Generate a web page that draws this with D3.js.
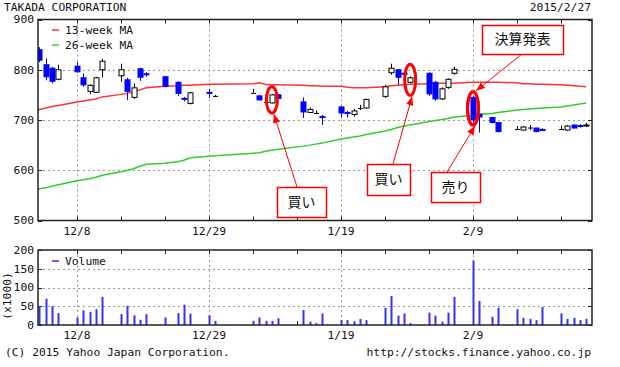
<!DOCTYPE html>
<html>
<head>
<meta charset="utf-8">
<script src="https://cdn.jsdelivr.net/npm/d3@7"></script>
<style>
body { margin: 0; background: #fff; }
text { font-family: "DejaVu Sans Mono", "Liberation Mono", monospace; font-size: 11.3px; fill: #111; }
.jp { font-family: "Noto Sans CJK JP", sans-serif; font-size: 14px; }
</style>
</head>
<body>
<svg id="chart" width="620" height="367"></svg>
<script>
// trading days, OHLC and volume (x1000)
var dates = [
    "2014-12-02", "2014-12-03", "2014-12-04", "2014-12-05",
    "2014-12-08", "2014-12-09", "2014-12-10", "2014-12-11", "2014-12-12",
    "2014-12-15", "2014-12-16", "2014-12-17", "2014-12-18", "2014-12-19",
    "2014-12-22", "2014-12-24", "2014-12-25", "2014-12-26",
    "2014-12-29", "2014-12-30",
    "2015-01-05", "2015-01-06", "2015-01-07", "2015-01-08", "2015-01-09",
    "2015-01-13", "2015-01-14", "2015-01-15", "2015-01-16",
    "2015-01-19", "2015-01-20", "2015-01-21", "2015-01-22", "2015-01-23",
    "2015-01-26", "2015-01-27", "2015-01-28", "2015-01-29", "2015-01-30",
    "2015-02-02", "2015-02-03", "2015-02-04", "2015-02-05", "2015-02-06",
    "2015-02-09", "2015-02-10", "2015-02-12", "2015-02-13",
    "2015-02-16", "2015-02-17", "2015-02-18", "2015-02-19", "2015-02-20",
    "2015-02-23", "2015-02-24", "2015-02-25", "2015-02-26", "2015-02-27"
]
var open = [840, 810, 803, 781, 807, 784, 757, 755, 800, 788, 780, 745, 802, 792, 786, 775, 743, 733, 755, 748,
    754, 748, 736, 734, 750, 736, 715, 714, 707, 726, 715, 711, 724, 724, 747, 794, 800, 793, 775,
    793, 775, 742, 765, 793, 745, 712, 705, 695, 682, 680, 685, 684, 681, 682, 680, 690, 689, 689]
var high = [845, 822, 806, 810, 815, 793, 771, 786, 822, 812, 784, 773, 804, 795, 788, 777, 746, 756, 762, 750,
    762, 749, 738, 752, 752, 745, 725, 719, 710, 728, 718, 722, 730, 742, 770, 812, 801, 794, 787,
    795, 778, 765, 783, 806, 748, 713, 706, 696, 688, 688, 690, 685, 684, 689, 690, 691, 692, 694]
var low = [815, 779, 773, 779, 794, 766, 752, 754, 785, 776, 740, 742, 778, 786, 765, 748, 737, 731, 744, 746,
    754, 739, 734, 733, 741, 704, 714, 714, 690, 705, 705, 707, 720, 723, 744, 790, 770, 773, 773,
    748, 738, 740, 762, 790, 695, 675, 693, 675, 682, 679, 680, 676, 678, 682, 679, 683, 685, 686]
var close = [819, 786, 777, 800, 796, 770, 769, 784, 817, 800, 757, 764, 785, 790, 767, 753, 741, 754, 753, 748,
    754, 740, 736, 750, 743, 716, 721, 714, 705, 714, 713, 718, 724, 741, 766, 803, 785, 791, 784,
    752, 742, 762, 781, 801, 700, 706, 695, 677, 682, 686, 685, 677, 680, 682, 688, 684, 687, 690]
var volume = [50, 70, 50, 32, 20, 39, 35, 42, 75, 29, 51, 26, 14, 29, 20, 32, 54, 30, 26, 11,
    11, 20, 11, 11, 18, 40, 9, 5, 31, 13, 13, 10, 16, 13, 46, 77, 25, 31, 5,
    33, 25, 9, 33, 75, 172, 64, 22, 46, 42, 19, 16, 13, 48, 31, 16, 19, 13, 16]

// moving averages start one day earlier (12/1) so the lines reach the left edge
var maDates = ["2014-12-01"].concat(dates)
var ma13 = [717, 721, 724, 727, 729, 736, 738, 740, 742, 746, 751, 753, 756, 760, 764, 767, 768, 769, 769, 771, 771,
    772, 774, 771, 770, 770, 769, 768, 768, 767, 767, 765, 764, 764, 764, 766, 768, 769, 770, 771,
    772, 772, 773, 773, 773, 775, 775, 775, 775, 774, 772, 772, 771, 771, 770, 769, 768, 767, 766]
var ma26 = [560, 563, 565, 568, 571, 579, 581, 583, 586, 590, 597, 600, 603, 608, 612, 614, 617, 620, 625, 628, 629,
    634, 635, 638, 640, 642, 648, 650, 652, 654, 662, 664, 666, 668, 671, 678, 681, 685, 688, 690,
    697, 699, 701, 703, 706, 709, 711, 713, 715, 720, 721, 722, 723, 724, 726, 728, 730, 732, 734]

var priceTicks = [500, 600, 700, 800, 900]
var volumeTicks = [0, 50, 100, 150, 200]
var labelDates = ["2014-12-08", "2014-12-29", "2015-01-19", "2015-02-09"]
var labelNames = ["12/8", "12/29", "1/19", "2/9"]

// callouts: date of the circled candle, price range it covers, box text
var notes = [
    {text: "買い", date: "2015-01-08", lo: 714, hi: 766, box: [277, 187, 49, 30], from: [297, 187], to: "bottom"},
    {text: "買い", date: "2015-01-30", lo: 749, hi: 811, box: [367, 164, 43, 31], from: [393, 164], to: "bottom"},
    {text: "売り", date: "2015-02-09", lo: 690, hi: 756, box: [431, 172, 49, 30], from: [447, 172], to: "bottom"},
    {text: "決算発表", date: "2015-02-09", lo: 690, hi: 756, box: [482, 25, 81, 29], from: [522, 54], to: "top"}
]

var blue = "#0000ff"
var parse = d3.timeParse("%Y-%m-%d")
var svg = d3.select("svg#chart")

var left = 38, right = 592
var x = d3.scaleTime()
    .domain([new Date(2014, 11, 1, 19), new Date(2015, 1, 27, 22, 20)])
    .range([left, right])
var y = d3.scaleLinear().domain([500, 900]).range([220.5, 19.5])
var yv = d3.scaleLinear().domain([0, 200]).range([325, 250])

var candles = dates.map(function (d, i) {
    return {date: parse(d), o: open[i], h: high[i], l: low[i], c: close[i], v: volume[i]}
})
var mondays = d3.timeMonday.range(parse("2014-12-02"), parse("2015-02-28"))

var defs = svg.append("defs")
defs.append("clipPath").attr("id", "clip")
    .append("rect").attr("x", left).attr("y", 19.5).attr("width", right - left).attr("height", 201)
defs.append("marker")
    .attr("id", "arrow")
    .attr("viewBox", "0 -5 10 10")
    .attr("refX", 10)
    .attr("refY", 0)
    .attr("orient", "auto")
    .attr("markerUnits", "userSpaceOnUse")
    .attr("markerWidth", 9)
    .attr("markerHeight", 9)
    .append("path").attr("d", "M0,-4L10,0L0,4Z").attr("fill", "red")

function px(v) { return Math.round(v) + 0.5 }

// draws grid, ticks, labels for one panel
function panel(top, bottom, ys, yTicks, gridTicks) {
    var g = svg.append("g")
    g.selectAll(".hgrid").data(gridTicks).enter().append("line")
        .attr("x1", left).attr("x2", right)
        .attr("y1", function (d) { return px(ys(d)) }).attr("y2", function (d) { return px(ys(d)) })
        .attr("stroke", "#999").attr("stroke-dasharray", "2,3")
    g.selectAll(".vgrid").data(labelDates).enter().append("line")
        .attr("x1", function (d) { return px(x(parse(d))) }).attr("x2", function (d) { return px(x(parse(d))) })
        .attr("y1", top).attr("y2", bottom)
        .attr("stroke", "#999").attr("stroke-dasharray", "2,3")
    mondays.forEach(function (m) {
        var xx = px(x(m))
        g.append("line").attr("x1", xx).attr("x2", xx).attr("y1", top).attr("y2", top + 4).attr("stroke", "#222")
        g.append("line").attr("x1", xx).attr("x2", xx).attr("y1", bottom).attr("y2", bottom - 4).attr("stroke", "#222")
    })
    yTicks.forEach(function (t) {
        var yy = px(ys(t))
        g.append("line").attr("x1", left).attr("x2", left + 4).attr("y1", yy).attr("y2", yy).attr("stroke", "#222")
        g.append("line").attr("x1", right).attr("x2", right - 4).attr("y1", yy).attr("y2", yy).attr("stroke", "#222")
        g.append("text").attr("x", 34).attr("y", ys(t)).attr("dy", "0.35em")
            .attr("text-anchor", "end").text(t)
    })
    labelDates.forEach(function (d, i) {
        g.append("text").attr("x", x(parse(d))).attr("y", bottom + 14)
            .attr("text-anchor", "middle").text(labelNames[i])
    })
    return g
}

panel(19.5, 220.5, y, priceTicks, [600, 700, 800])
panel(250, 325, yv, volumeTicks, [50, 100, 150])

// moving averages
var maLine = function (vals) {
    return d3.line()
        .x(function (d) { return x(parse(d)) })
        .y(function (d, i) { return y(vals[i]) })(maDates)
}
var plot = svg.append("g").attr("clip-path", "url(#clip)")
plot.append("path").attr("d", maLine(ma26)).attr("fill", "none").attr("stroke", "#33cc33").attr("stroke-width", 1.5)
plot.append("path").attr("d", maLine(ma13)).attr("fill", "none").attr("stroke", "#ff3333").attr("stroke-width", 1.5)

// candles
var c = plot.selectAll(".candle").data(candles).enter().append("g").attr("class", "candle")
c.append("line")
    .attr("x1", function (d) { return px(x(d.date)) })
    .attr("x2", function (d) { return px(x(d.date)) })
    .attr("y1", function (d) { return y(d.h) })
    .attr("y2", function (d) { return y(d.l) })
    .attr("stroke", function (d) { return d.c < d.o ? blue : "#000" })
c.append("rect")
    .attr("x", function (d) { return Math.round(x(d.date)) - 2 })
    .attr("width", 5)
    .attr("y", function (d) { return y(Math.max(d.o, d.c)) })
    .attr("height", function (d) { return Math.max(1, y(Math.min(d.o, d.c)) - y(Math.max(d.o, d.c))) })
    .attr("fill", function (d) { return d.c < d.o ? blue : (d.c > d.o ? "#fff" : "#000") })
    .attr("stroke", function (d) { return d.c < d.o ? blue : "#000" })
    .attr("stroke-width", function (d) { return d.c == d.o ? 0 : 1 })

// volume bars
svg.append("g").selectAll("rect").data(candles).enter().append("rect")
    .attr("x", function (d) { return Math.round(x(d.date)) - 0.5 })
    .attr("width", 2)
    .attr("y", function (d) { return yv(d.v) })
    .attr("height", function (d) { return yv(0) - yv(d.v) })
    .attr("fill", "#3333ff")

// borders
svg.append("rect").attr("x", left).attr("y", 19.5).attr("width", right - left).attr("height", 201)
    .attr("fill", "none").attr("stroke", "#222").attr("stroke-width", 1.5)
svg.append("rect").attr("x", left).attr("y", 250).attr("width", right - left).attr("height", 75)
    .attr("fill", "none").attr("stroke", "#222").attr("stroke-width", 1.5)

// legends
function addLegend(text, color, yy) {
    svg.append("line").attr("x1", 52).attr("x2", 59).attr("y1", yy).attr("y2", yy).attr("stroke", color).attr("stroke-width", 1.5)
    svg.append("text").attr("x", 65).attr("y", yy).attr("dy", "0.35em").text(text)
}
addLegend("13-week MA", "#ff3333", 30)
addLegend("26-week MA", "#33cc33", 45)
addLegend("Volume", "#3333ff", 261)

// titles and footer
svg.append("text").attr("x", 4).attr("y", 10.5).text("TAKADA CORPORATION")
svg.append("text").attr("x", 591).attr("y", 11).attr("text-anchor", "end").text("2015/2/27")
svg.append("text").attr("x", 5).attr("y", 356).text("(C) 2015 Yahoo Japan Corporation.")
svg.append("text").attr("x", 591).attr("y", 356).attr("text-anchor", "end").text("http://stocks.finance.yahoo.co.jp")
svg.append("text").attr("transform", "translate(11,296) rotate(-90)").attr("text-anchor", "middle").text("(x1000)")

// callouts
notes.forEach(function (n) {
    var cx = x(parse(n.date)), top = y(n.hi), bot = y(n.lo)
    var cy = (top + bot) / 2, ry = (bot - top) / 2
    svg.append("ellipse").attr("cx", cx).attr("cy", cy).attr("rx", 5.5).attr("ry", ry)
        .attr("fill", "none").attr("stroke", "red").attr("stroke-width", 3)
    var tx = n.to == "top" ? cx + 3 : cx + 2
    var ty = n.to == "top" ? top - 1 : bot + 1
    svg.append("line").attr("x1", n.from[0]).attr("y1", n.from[1]).attr("x2", tx).attr("y2", ty)
        .attr("stroke", "red").attr("stroke-width", 1).attr("marker-end", "url(#arrow)")
    var b = n.box
    svg.append("rect").attr("x", b[0] + 0.5).attr("y", b[1] + 0.5).attr("width", b[2]).attr("height", b[3])
        .attr("fill", "#fff").attr("stroke", "red").attr("stroke-width", 1.5)
    svg.append("text").attr("class", "jp").attr("x", b[0] + b[2] / 2).attr("y", b[1] + b[3] / 2)
        .attr("dy", "0.35em").attr("text-anchor", "middle").text(n.text)
})
</script>
</body>
</html>
